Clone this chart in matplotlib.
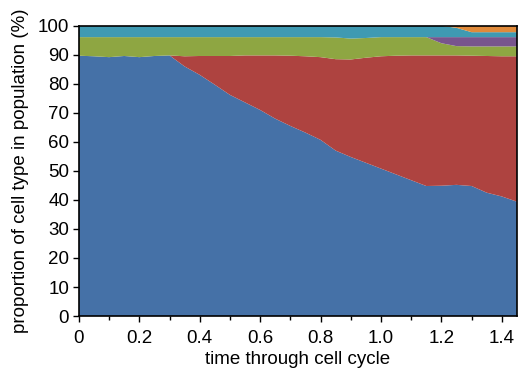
import matplotlib
matplotlib.use('Agg')
import matplotlib.pyplot as plt
import numpy as np
from matplotlib.ticker import MultipleLocator, FixedLocator, FixedFormatter

plt.rcParams['font.family'] = ['Liberation Sans', 'DejaVu Sans']

# time points through the cell cycle
t = [0.0, 0.05, 0.1, 0.15, 0.2, 0.25, 0.3, 0.35, 0.4, 0.45,
     0.5, 0.55, 0.6, 0.65, 0.7, 0.75, 0.8, 0.85, 0.9, 0.95,
     1.0, 1.05, 1.1, 1.15, 1.2, 1.25, 1.3, 1.35, 1.4, 1.45]

# proportion (%) of each cell type
blue = [89.7, 89.5, 89.2, 89.6, 89.2, 89.6, 89.8, 86.0, 83.1, 79.7,
        76.2, 73.6, 71.0, 68.0, 65.5, 63.2, 60.7, 57.0, 54.8, 52.8,
        50.8, 48.8, 46.8, 44.8, 44.9, 45.2, 44.8, 42.5, 41.2, 39.4]
red = [0, 0, 0, 0, 0, 0, 0, 3.5, 6.5, 9.9,
       13.4, 16.2, 18.8, 21.8, 24.2, 26.3, 28.5, 31.5, 33.6, 36.2,
       38.7, 40.9, 43.0, 45.0, 44.9, 44.6, 44.9, 47.1, 48.3, 50.1]
green = [6.4, 6.6, 6.9, 6.5, 6.9, 6.5, 6.3, 6.6, 6.5, 6.5,
         6.5, 6.3, 6.3, 6.3, 6.4, 6.6, 6.9, 7.5, 7.2, 6.8,
         6.6, 6.4, 6.3, 6.3, 4.2, 3.2, 3.2, 3.3, 3.4, 3.4]
purple = [0, 0, 0, 0, 0, 0, 0, 0, 0, 0,
          0, 0, 0, 0, 0, 0, 0, 0, 0, 0,
          0, 0, 0, 0, 2.1, 3.1, 3.2, 3.2, 3.2, 3.2]
teal = [3.9, 3.9, 3.9, 3.9, 3.9, 3.9, 3.9, 3.9, 3.9, 3.9,
        3.9, 3.9, 3.9, 3.9, 3.9, 3.9, 3.9, 4.0, 4.4, 4.2,
        3.9, 3.9, 3.9, 3.9, 3.9, 3.2, 1.7, 1.7, 1.7, 1.7]
orange = [0, 0, 0, 0, 0, 0, 0, 0, 0, 0,
          0, 0, 0, 0, 0, 0, 0, 0, 0, 0,
          0, 0, 0, 0, 0, 0.7, 2.2, 2.2, 2.2, 2.2]

colors = ['#4571A7', '#AE4340', '#8EA642', '#78558D', '#3F9AB2', '#E08A3A']

xticks = [0, 0.2, 0.4, 0.6, 0.8, 1.0, 1.2, 1.4]
xticklabels = ['0', '0.2', '0.4', '0.6', '0.8', '1.0', '1.2', '1.4']

fig = plt.figure(figsize=(5.19, 3.74), dpi=100)
ax = fig.add_axes([0.152, 0.155, 0.844, 0.776])

ax.stackplot(t, blue, red, green, purple, teal, orange, colors=colors,
             linewidth=0)

ax.set_xlim(0, 1.45)
ax.set_ylim(0, 100)
ax.xaxis.set_major_locator(FixedLocator(xticks))
ax.xaxis.set_major_formatter(FixedFormatter(xticklabels))
ax.xaxis.set_minor_locator(MultipleLocator(0.1))
ax.yaxis.set_major_locator(MultipleLocator(10))

ax.tick_params(which='both', direction='out', labelsize=13.5, width=1,
               top=False, right=False, pad=3)
ax.tick_params(axis='x', which='major', pad=6)
ax.tick_params(which='major', length=4)
ax.tick_params(which='minor', length=3)
for s in ax.spines.values():
    s.set_linewidth(1.2)

ax.set_xlabel('time through cell cycle', fontsize=13.5, labelpad=3)
ax.set_ylabel('proportion of cell type in population (%)', fontsize=13.5,
              labelpad=6)

fig.savefig('out.png')
